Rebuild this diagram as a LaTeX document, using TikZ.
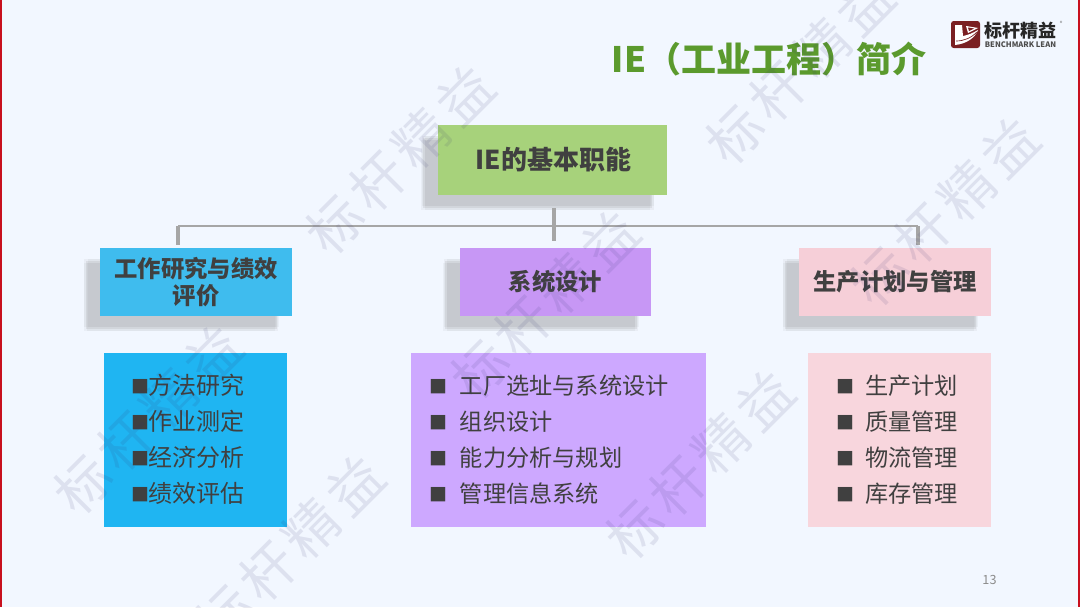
\documentclass[tikz,border=0pt]{standalone}
\usepackage{fontspec}
\setmainfont{Noto Sans CJK SC}
\usepackage{xcolor}
\usetikzlibrary{positioning,shadows}
\definecolor{pagebg}{HTML}{F2F7FF}
\definecolor{inkgray}{HTML}{404040}
\definecolor{titlegreen}{HTML}{5B9A2D}
\definecolor{edgered}{HTML}{C8101E}
\definecolor{logored}{HTML}{7A1F22}
\definecolor{rootgreen}{HTML}{A7D27B}
\definecolor{headblue}{HTML}{3FBCEE}
\definecolor{listblue}{HTML}{1FB5F2}
\definecolor{headpurple}{HTML}{C797F5}
\definecolor{listpurple}{HTML}{CDA8FF}
\definecolor{headpink}{HTML}{F6CFD8}
\definecolor{listpink}{HTML}{F8D6DD}
\tikzset{
  softshadow/.style={
    drop shadow={shadow xshift=-9.5pt, shadow yshift=-8pt, fill=black!50, opacity=.07},
    drop shadow={shadow xshift=-12.5pt, shadow yshift=-11pt, fill=black!50, opacity=.07},
    drop shadow={shadow xshift=-10pt, shadow yshift=-11pt, fill=black!50, opacity=.08},
    drop shadow={shadow xshift=-12pt, shadow yshift=-8.5pt, fill=black!50, opacity=.08},
    drop shadow={shadow xshift=-11pt, shadow yshift=-9.5pt, fill=black!50, opacity=.14}},
  rootbox/.style={softshadow, fill=rootgreen, minimum width=171.75pt, minimum height=52.5pt, inner sep=0pt, text=inkgray, font=\fontsize{19.5}{24}\selectfont\bfseries},
  headbox/.style={softshadow, minimum width=143.5pt, minimum height=51pt, inner sep=0pt, align=center, text=inkgray, font=\fontsize{17.5}{20}\selectfont\bfseries},
  listbox/.style={minimum height=130.5pt, inner ysep=0pt, align=left, text=inkgray, font=\fontsize{17.4}{27}\selectfont},
  conn/.style={draw=black!35, line width=1.6pt},
  stub/.style={draw=black!35, line width=2.4pt},
  wmark/.style={rotate=45, text=black!60!blue!60!gray, opacity=.11, font=\fontsize{41}{41}\selectfont\addfontfeatures{LetterSpace=12}}
}
\newcommand{\bitem}[2]{\makebox[#1pt][l]{\raisebox{0.8pt}{\fontsize{13.5}{15}\selectfont ■}}#2}
\begin{document}
\begin{tikzpicture}[x=0.75pt,y=-0.75pt]
  \fill[pagebg] (0,0) rectangle (1080,607);
  \useasboundingbox (0,0) rectangle (1080,607);
  \fill[edgered] (0,0) rectangle (2,607);
  \fill[edgered] (1078,0) rectangle (1080,607);
  % bus behind the boxes
  \coordinate (busleft) at (178,226);
  \coordinate (busmid) at (554,208);
  \coordinate (busright) at (918,226);
  \node[inner sep=0pt] (title) at (769,59) {\textcolor{titlegreen}{\fontsize{26.25}{30}\selectfont\bfseries IE（工业工程）简介}};
  \draw[conn] (busleft) -- (busright);
  % boxes
  \node[rootbox] (root) at (552.5,160) {\hspace*{1.2pt}\raisebox{1pt}{IE的基本职能}};
  \node[headbox, fill=headblue] (study) at (196,282) {\raisebox{1.6pt}{工作研究与绩效}\\\raisebox{1.6pt}{评价}};
  \node[headbox, fill=headpurple] (sysdes) at (555.5,282) {\raisebox{0.6pt}{系统设计}};
  \node[headbox, fill=headpink] (plan) at (895,282) {\raisebox{0.6pt}{生产计划与管理}};
  \draw[stub, shorten >=2pt] (busleft) -- (busleft |- study.north);
  \draw[stub, shorten >=5pt] (busmid) -- (busmid |- sysdes.north);
  \draw[stub, shorten >=2pt] (busright) -- (busright |- plan.north);
  \node[listbox, fill=listblue, inner xsep=21pt, text width=95.25pt, font=\fontsize{18}{27}\selectfont, below=27pt of study, xshift=-0.4pt] (studylist) {\bitem{12.75}{方法研究}\\\bitem{12.75}{作业测定}\\\bitem{12.75}{经济分析}\\\bitem{12.75}{绩效评估}};
  \node[listbox, fill=listpurple, inner xsep=14.25pt, text width=192.75pt, below=27pt of sysdes, xshift=2.2pt] (syslist) {\bitem{22.5}{工厂选址与系统设计}\\\bitem{22.5}{组织设计}\\\bitem{22.5}{能力分析与规划}\\\bitem{22.5}{管理信息系统}};
  \node[listbox, fill=listpink, inner xsep=21pt, text width=95.25pt, below=27pt of plan, xshift=3.4pt] (planlist) {\bitem{21.75}{生产计划}\\\bitem{21.75}{质量管理}\\\bitem{21.75}{物流管理}\\\bitem{21.75}{库存管理}};
  % logo
  \fill[logored, rounded corners=2pt] (951,21) rectangle (980,48);
  \fill[white] (955,25) -- (962,25) -- (963,36) .. controls (968,35) and (973,33) .. (978,30) .. controls (975,38) and (966,44) .. (955,45) -- cycle;
  \fill[white] (966,26) -- (978,28) -- (968,33) -- cycle;
  \fill[logored] (968,27.5) -- (974,28.5) -- (969,31) -- cycle;
  \draw[logored, line width=0.5pt] (956,41) .. controls (964,41) and (971,38) .. (977,32);
  \node[inner sep=0pt] (logotext) at (1020.5,31) {\textcolor{black!85}{\fontsize{13.5}{14}\selectfont\bfseries 标杆精益}};
  \node[inner sep=0pt, below=1.5pt of logotext] (logosub) {\textcolor{black!70}{\fontsize{5.7}{6}\selectfont\bfseries BENCHMARK LEAN}};
  \node[inner sep=0pt] (logoreg) at (1061,23) {\textcolor{black!60}{\fontsize{4}{5}\selectfont ®}};
  \node[inner sep=0pt] (pagenum) at (989.5,580) {\textcolor{black!45}{\fontsize{9.5}{11}\selectfont 13}};
  % watermark
  \node[wmark] (wma) at (400,160) {标杆精益};
  \node[wmark] (wmb) at (800,70) {标杆精益};
  \node[wmark] (wmc) at (945,212) {标杆精益};
  \node[wmark] (wmd) at (148,420) {标杆精益};
  \node[wmark] (wme) at (545,305) {标杆精益};
  \node[wmark] (wmf) at (290,550) {标杆精益};
  \node[wmark] (wmg) at (700,465) {标杆精益};
\end{tikzpicture}
\end{document}
